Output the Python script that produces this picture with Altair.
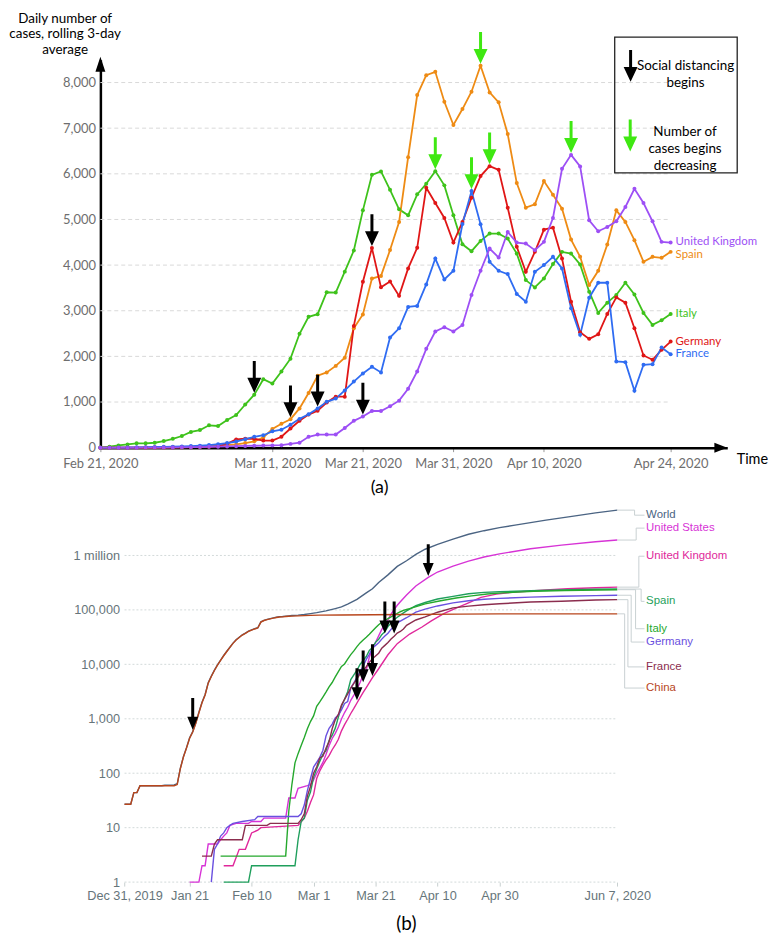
import altair as alt
import pandas as pd

# ===================== DATA : panel (a) daily cases, rolling 3-day average =====================
A_START = "2020-02-21"
A_DAYS = 64
a_countries = ["Italy", "Spain", "Germany", "France", "United Kingdom"]

italy_a = [5, 20, 48, 70, 95, 95, 108, 145,
           195, 255, 345, 385, 490, 475, 605, 715,
           945, 1160, 1500, 1405, 1670, 1950, 2495, 2867,
           2925, 3405, 3398, 3857, 4320, 5200, 5978, 6052,
           5650, 5222, 5091, 5550, 5782, 6059, 5747, 5091,
           4455, 4305, 4530, 4690, 4690, 4581, 4253, 3672,
           3511, 3707, 4022, 4290, 4253, 4013, 3417, 2952,
           3177, 3345, 3613, 3358, 2952, 2690, 2790, 2930]
spain_a = [0, 0, 0, 1, 1, 2, 3, 5,
           7, 10, 14, 20, 28, 40, 55, 70,
           100, 140, 222, 410, 523, 624, 860, 1197,
           1577, 1649, 1792, 1971, 2617, 2918, 3706, 3763,
           4330, 4945, 6365, 7725, 8162, 8235, 7580, 7070,
           7419, 7799, 8367, 7784, 7566, 6873, 5797, 5258,
           5332, 5841, 5541, 5236, 4560, 4181, 3563, 3876,
           4450, 5200, 4945, 4546, 4072, 4181, 4159, 4290]
germany_a = [0, 0, 0, 0, 1, 2, 3, 5,
             6, 8, 10, 14, 20, 33, 83, 180,
             195, 195, 155, 155, 240, 420, 588, 724,
             810, 989, 1118, 1118, 2667, 3634, 4373, 3513,
             3642, 3326, 3927, 4378, 5695, 5360, 5033, 4494,
             4945, 5476, 5950, 6168, 6088, 5258, 4400, 3854,
             4290, 4777, 4821, 4144, 3199, 2528, 2384, 2485,
             2930, 3293, 3177, 2616, 2020, 1926, 2144, 2325]
france_a = [1, 1, 2, 4, 8, 12, 15, 18,
            22, 28, 35, 45, 58, 75, 100, 135,
            185, 237, 272, 358, 394, 502, 631, 731,
            860, 1004, 1075, 1254, 1448, 1627, 1771, 1649,
            2413, 2616, 3083, 3105, 3577, 4144, 3686, 3876,
            4900, 5622, 4895, 4072, 3876, 3803, 3367, 3199,
            3854, 4000, 4181, 3927, 3054, 2472, 3286, 3613,
            3613, 1889, 1874, 1249, 1817, 1830, 2194, 2048]
uk_a = [0, 0, 0, 0, 0, 1, 2, 3,
        5, 7, 10, 14, 18, 22, 27, 33,
        38, 42, 46, 50, 55, 83, 110, 237,
        287, 287, 287, 430, 588, 681, 803, 803,
        907, 1030, 1292, 1670, 2166, 2544, 2637, 2544,
        2690, 3345, 3876, 4363, 4166, 4727, 4494, 4472,
        4328, 4509, 5033, 6109, 6415, 6162, 4982, 4742,
        4836, 4960, 5273, 5672, 5360, 4960, 4509, 4494]

a_tick_dates = ["2020-02-21", "2020-03-11", "2020-03-21", "2020-03-31", "2020-04-10", "2020-04-24"]
a_y_ticks = [0, 1000, 2000, 3000, 4000, 5000, 6000, 7000, 8000]
a_black_arrows = [("Italy", "2020-03-09"), ("Spain", "2020-03-13"), ("France", "2020-03-16"),
                  ("United Kingdom", "2020-03-21"), ("Germany", "2020-03-22")]
a_green_arrows = [("Italy", "2020-03-29"), ("France", "2020-04-02"), ("Spain", "2020-04-03"),
                  ("Germany", "2020-04-04"), ("United Kingdom", "2020-04-13")]
a_y_title = ["Daily number of", "cases, rolling 3-day", "average"]
a_legend_black = ["Social distancing", "begins"]
a_legend_green = ["Number of", "cases begins", "decreasing"]

# ===================== DATA : panel (b) total confirmed cases (log) =====================
b_order = ["World", "United States", "United Kingdom", "Spain", "Italy", "Germany", "France", "China"]

world_b = [("2019-12-31", 27), ("2020-01-02", 27), ("2020-01-03", 44), ("2020-01-04", 44), ("2020-01-05", 59),
           ("2020-01-12", 59), ("2020-01-13", 60), ("2020-01-16", 61), ("2020-01-17", 64), ("2020-01-18", 123),
           ("2020-01-19", 201), ("2020-01-20", 295), ("2020-01-21", 446), ("2020-01-22", 581), ("2020-01-23", 846),
           ("2020-01-24", 1320), ("2020-01-25", 2014), ("2020-01-26", 2798), ("2020-01-27", 4593), ("2020-01-28", 6065),
           ("2020-01-29", 7818), ("2020-01-30", 9826), ("2020-01-31", 11953), ("2020-02-01", 14557), ("2020-02-02", 17391),
           ("2020-02-03", 20630), ("2020-02-04", 24554), ("2020-02-05", 28276), ("2020-02-06", 31481), ("2020-02-07", 34886),
           ("2020-02-08", 37558), ("2020-02-09", 40554), ("2020-02-10", 43103), ("2020-02-11", 45171), ("2020-02-12", 46997),
           ("2020-02-13", 60368), ("2020-02-14", 64445), ("2020-02-15", 67099), ("2020-02-16", 69193), ("2020-02-17", 71329),
           ("2020-02-18", 73332), ("2020-02-19", 75184), ("2020-02-20", 75700), ("2020-02-21", 76767), ("2020-02-22", 77794),
           ("2020-02-23", 78811), ("2020-02-25", 80088), ("2020-02-27", 82294), ("2020-02-29", 85403), ("2020-03-02", 89000),
           ("2020-03-05", 95800), ("2020-03-08", 105800), ("2020-03-10", 113500), ("2020-03-12", 128000), ("2020-03-15", 156000),
           ("2020-03-18", 205000), ("2020-03-20", 245000), ("2020-03-22", 320000), ("2020-03-25", 440000), ("2020-03-28", 630000),
           ("2020-03-31", 800000), ("2020-04-03", 1050000), ("2020-04-06", 1300000), ("2020-04-10", 1600000), ("2020-04-15", 2000000),
           ("2020-04-20", 2450000), ("2020-04-25", 2850000), ("2020-04-30", 3250000), ("2020-05-05", 3600000), ("2020-05-10", 4000000),
           ("2020-05-15", 4450000), ("2020-05-20", 4900000), ("2020-05-25", 5400000), ("2020-05-31", 6050000), ("2020-06-07", 6800000)]
us_b = [("2020-01-21", 1), ("2020-01-24", 1), ("2020-01-25", 2), ("2020-01-26", 2), ("2020-01-27", 5), ("2020-01-30", 5),
        ("2020-01-31", 6), ("2020-02-01", 7), ("2020-02-02", 8), ("2020-02-03", 11), ("2020-02-05", 12), ("2020-02-09", 12),
        ("2020-02-10", 13), ("2020-02-13", 13), ("2020-02-14", 15), ("2020-02-21", 15), ("2020-02-22", 35), ("2020-02-24", 35),
        ("2020-02-25", 53), ("2020-02-28", 59), ("2020-02-29", 62), ("2020-03-01", 75), ("2020-03-02", 100), ("2020-03-03", 124),
        ("2020-03-04", 158), ("2020-03-05", 221), ("2020-03-06", 319), ("2020-03-07", 435), ("2020-03-08", 541), ("2020-03-09", 704),
        ("2020-03-10", 994), ("2020-03-11", 1301), ("2020-03-12", 1630), ("2020-03-13", 2183), ("2020-03-14", 2726), ("2020-03-15", 3499),
        ("2020-03-16", 4632), ("2020-03-17", 6421), ("2020-03-18", 7786), ("2020-03-19", 13680), ("2020-03-20", 19101), ("2020-03-21", 25493),
        ("2020-03-22", 33276), ("2020-03-23", 43847), ("2020-03-24", 53740), ("2020-03-25", 65778), ("2020-03-26", 83836), ("2020-03-27", 101657),
        ("2020-03-28", 121478), ("2020-03-29", 140886), ("2020-03-31", 188172), ("2020-04-03", 275586), ("2020-04-07", 396223), ("2020-04-10", 496535),
        ("2020-04-15", 636350), ("2020-04-20", 784326), ("2020-04-25", 938154), ("2020-04-30", 1069424), ("2020-05-10", 1329260), ("2020-05-20", 1551853),
        ("2020-05-31", 1790172), ("2020-06-07", 1920061)]
uk_b = [("2020-02-01", 2), ("2020-02-04", 2), ("2020-02-06", 4), ("2020-02-08", 4), ("2020-02-10", 8), ("2020-02-12", 9),
        ("2020-02-13", 10), ("2020-02-25", 11), ("2020-02-27", 15), ("2020-02-28", 20), ("2020-02-29", 29), ("2020-03-01", 40),
        ("2020-03-02", 80), ("2020-03-03", 110), ("2020-03-04", 140), ("2020-03-05", 175), ("2020-03-06", 210), ("2020-03-07", 270),
        ("2020-03-08", 330), ("2020-03-09", 420), ("2020-03-10", 600), ("2020-03-11", 780), ("2020-03-12", 980), ("2020-03-13", 1250),
        ("2020-03-14", 1550), ("2020-03-15", 1950), ("2020-03-16", 2450), ("2020-03-17", 3050), ("2020-03-18", 3750), ("2020-03-19", 4600),
        ("2020-03-20", 5700), ("2020-03-22", 8300), ("2020-03-25", 15000), ("2020-03-28", 24000), ("2020-04-01", 36000), ("2020-04-05", 48500),
        ("2020-04-08", 63000), ("2020-04-12", 85000), ("2020-04-16", 108000), ("2020-04-20", 135000), ("2020-04-24", 170000), ("2020-04-29", 195000),
        ("2020-05-04", 210000), ("2020-05-10", 222000), ("2020-05-15", 232000), ("2020-05-22", 245000), ("2020-05-31", 255000), ("2020-06-07", 262000)]
spain_b = [("2020-02-01", 1), ("2020-02-09", 1), ("2020-02-10", 2), ("2020-02-24", 2), ("2020-02-25", 6), ("2020-02-26", 13),
           ("2020-02-27", 15), ("2020-02-28", 32), ("2020-02-29", 45), ("2020-03-01", 84), ("2020-03-02", 120), ("2020-03-03", 165),
           ("2020-03-04", 222), ("2020-03-05", 259), ("2020-03-06", 400), ("2020-03-07", 500), ("2020-03-08", 673), ("2020-03-09", 1073),
           ("2020-03-10", 1695), ("2020-03-11", 2277), ("2020-03-12", 3146), ("2020-03-13", 5232), ("2020-03-14", 6391), ("2020-03-15", 7798),
           ("2020-03-16", 9942), ("2020-03-17", 11748), ("2020-03-18", 13910), ("2020-03-19", 17963), ("2020-03-20", 20410), ("2020-03-21", 25374),
           ("2020-03-22", 28768), ("2020-03-23", 35136), ("2020-03-24", 39885), ("2020-03-25", 49515), ("2020-03-26", 57786), ("2020-03-27", 65719),
           ("2020-03-28", 73235), ("2020-03-29", 80110), ("2020-03-30", 87956), ("2020-03-31", 95923), ("2020-04-03", 119199), ("2020-04-06", 136675),
           ("2020-04-10", 158273), ("2020-04-15", 177633), ("2020-04-20", 198000), ("2020-04-25", 210000), ("2020-04-30", 216000), ("2020-05-10", 224350),
           ("2020-05-20", 232555), ("2020-05-31", 239638), ("2020-06-07", 241550)]
italy_b = [("2020-01-31", 3), ("2020-02-21", 3), ("2020-02-22", 20), ("2020-02-23", 62), ("2020-02-24", 155), ("2020-02-25", 229),
           ("2020-02-26", 322), ("2020-02-27", 453), ("2020-02-28", 655), ("2020-02-29", 888), ("2020-03-01", 1128), ("2020-03-02", 1694),
           ("2020-03-03", 2036), ("2020-03-04", 2502), ("2020-03-05", 3089), ("2020-03-06", 3858), ("2020-03-07", 4636), ("2020-03-08", 5883),
           ("2020-03-09", 7375), ("2020-03-10", 9172), ("2020-03-11", 10149), ("2020-03-12", 12462), ("2020-03-13", 15113), ("2020-03-14", 17660),
           ("2020-03-15", 21157), ("2020-03-16", 24747), ("2020-03-17", 27980), ("2020-03-18", 31506), ("2020-03-19", 35713), ("2020-03-20", 41035),
           ("2020-03-21", 47021), ("2020-03-22", 53578), ("2020-03-23", 59138), ("2020-03-24", 63927), ("2020-03-25", 69176), ("2020-03-26", 74386),
           ("2020-03-27", 80589), ("2020-03-28", 86498), ("2020-03-29", 92472), ("2020-03-30", 97689), ("2020-03-31", 101739), ("2020-04-01", 105792),
           ("2020-04-06", 128948), ("2020-04-11", 147577), ("2020-04-16", 165155), ("2020-04-21", 181228), ("2020-04-26", 195351), ("2020-05-01", 205463),
           ("2020-05-11", 219070), ("2020-05-21", 227364), ("2020-06-01", 232664), ("2020-06-07", 234998)]
germany_b = [("2020-01-28", 1), ("2020-01-29", 4), ("2020-01-30", 5), ("2020-01-31", 7), ("2020-02-01", 8), ("2020-02-02", 10),
             ("2020-02-03", 11), ("2020-02-04", 12), ("2020-02-07", 13), ("2020-02-11", 14), ("2020-02-12", 16), ("2020-02-25", 16),
             ("2020-02-26", 18), ("2020-02-27", 26), ("2020-02-28", 48), ("2020-02-29", 79), ("2020-03-01", 130), ("2020-03-02", 159),
             ("2020-03-03", 196), ("2020-03-04", 262), ("2020-03-05", 482), ("2020-03-06", 670), ("2020-03-07", 799), ("2020-03-08", 1040),
             ("2020-03-09", 1176), ("2020-03-10", 1457), ("2020-03-11", 1908), ("2020-03-12", 2078), ("2020-03-13", 3675), ("2020-03-14", 4585),
             ("2020-03-15", 5795), ("2020-03-16", 7272), ("2020-03-17", 9257), ("2020-03-18", 12327), ("2020-03-19", 15320), ("2020-03-20", 19848),
             ("2020-03-21", 22213), ("2020-03-22", 24873), ("2020-03-23", 29056), ("2020-03-24", 32986), ("2020-03-25", 37323), ("2020-03-26", 43938),
             ("2020-03-27", 50871), ("2020-03-28", 57695), ("2020-03-29", 62095), ("2020-03-30", 66885), ("2020-03-31", 71808), ("2020-04-03", 91159),
             ("2020-04-06", 103374), ("2020-04-10", 118181), ("2020-04-15", 134753), ("2020-04-20", 147065), ("2020-04-25", 156513), ("2020-04-30", 163009),
             ("2020-05-10", 171324), ("2020-05-20", 178473), ("2020-05-31", 183294), ("2020-06-07", 185750)]
france_b = [("2020-01-25", 3), ("2020-01-28", 3), ("2020-01-29", 5), ("2020-01-30", 6), ("2020-02-07", 6), ("2020-02-08", 11),
            ("2020-02-15", 11), ("2020-02-16", 12), ("2020-02-25", 12), ("2020-02-26", 14), ("2020-02-27", 18), ("2020-02-28", 38),
            ("2020-02-29", 57), ("2020-03-01", 100), ("2020-03-02", 130), ("2020-03-03", 191), ("2020-03-04", 204), ("2020-03-05", 288),
            ("2020-03-06", 380), ("2020-03-07", 656), ("2020-03-08", 957), ("2020-03-09", 1200), ("2020-03-10", 1784), ("2020-03-11", 2281),
            ("2020-03-12", 2876), ("2020-03-13", 3667), ("2020-03-14", 4480), ("2020-03-15", 5400), ("2020-03-16", 6650), ("2020-03-17", 7652),
            ("2020-03-18", 9043), ("2020-03-19", 10871), ("2020-03-20", 12612), ("2020-03-21", 14282), ("2020-03-22", 16018), ("2020-03-23", 19856),
            ("2020-03-24", 22304), ("2020-03-25", 25233), ("2020-03-26", 29155), ("2020-03-27", 32964), ("2020-03-28", 37575), ("2020-03-29", 40174),
            ("2020-03-30", 44550), ("2020-03-31", 52128), ("2020-04-03", 65202), ("2020-04-06", 74390), ("2020-04-10", 90676), ("2020-04-15", 108847),
            ("2020-04-20", 117324), ("2020-04-25", 124575), ("2020-04-30", 129581), ("2020-05-10", 139519), ("2020-05-20", 143845), ("2020-05-31", 151753),
            ("2020-06-07", 154188)]
china_b = [("2019-12-31", 27), ("2020-01-02", 27), ("2020-01-03", 44), ("2020-01-04", 44), ("2020-01-05", 59), ("2020-01-16", 59),
           ("2020-01-17", 62), ("2020-01-18", 121), ("2020-01-19", 198), ("2020-01-20", 291), ("2020-01-21", 440), ("2020-01-22", 571),
           ("2020-01-23", 830), ("2020-01-24", 1287), ("2020-01-25", 1975), ("2020-01-26", 2744), ("2020-01-27", 4515), ("2020-01-28", 5974),
           ("2020-01-29", 7711), ("2020-01-30", 9692), ("2020-01-31", 11791), ("2020-02-01", 14380), ("2020-02-02", 17205), ("2020-02-03", 20438),
           ("2020-02-04", 24324), ("2020-02-05", 28018), ("2020-02-06", 31161), ("2020-02-07", 34546), ("2020-02-08", 37198), ("2020-02-09", 40171),
           ("2020-02-10", 42638), ("2020-02-11", 44653), ("2020-02-12", 46472), ("2020-02-13", 59804), ("2020-02-14", 63851), ("2020-02-15", 66492),
           ("2020-02-16", 68500), ("2020-02-17", 70548), ("2020-02-18", 72436), ("2020-02-19", 74185), ("2020-02-20", 74576), ("2020-02-21", 75465),
           ("2020-02-22", 76288), ("2020-02-23", 76936), ("2020-02-25", 77658), ("2020-02-27", 78497), ("2020-02-29", 79251), ("2020-03-03", 80151),
           ("2020-03-10", 80778), ("2020-03-20", 81300), ("2020-03-31", 82545), ("2020-04-17", 83760), ("2020-04-30", 84385), ("2020-05-31", 84570),
           ("2020-06-07", 84630)]

b_tick_dates = ["2019-12-31", "2020-01-21", "2020-02-10", "2020-03-01", "2020-03-21", "2020-04-10", "2020-04-30", "2020-06-07"]
b_y_ticks = [1, 10, 100, 1000, 10000, 100000, 1000000]
b_arrows = [("2020-01-22", 630), ("2020-03-15", 2200), ("2020-03-17", 4700), ("2020-03-20", 6100),
            ("2020-03-24", 37000), ("2020-03-27", 37000), ("2020-04-07", 420000)]

# ===================== STYLE =====================
FA = "Lato"
FB = "Liberation Sans"
A_COLORS = ["#3ec21b", "#ee8b14", "#e01616", "#2f6cf2", "#9d4ff5"]
A_LABEL_DY = {"Italy": 0, "Spain": 3, "Germany": 0, "France": 0, "United Kingdom": -1}
B_COLORS = {"World": "#4b6483", "United States": "#d733d6", "United Kingdom": "#e0289b", "Spain": "#1f9f5c",
            "Italy": "#25a82d", "Germany": "#6a50e0", "France": "#8b2d4e", "China": "#b8461c"}
# country -> (elbow px from line end, label dy px)
B_LABEL_LAYOUT = {"World": (17.4, 5.1), "United States": (19.0, -12.0), "United Kingdom": (21.7, -31.1),
                  "Spain": (24.0, 12.4), "Italy": (18.4, 39.3), "Germany": (14.0, 47.1),
                  "France": (10.7, 67.7), "China": (7.4, 74.7)}
GREEN_ARROW = "#3fe812"
LEADER = "#c9d1d3"
B_TEXT = "#66757a"
ARROW_A = "M-0.15,-3.2L0.15,-3.2L0.15,-1.5L0.7,-1.5L0,0L-0.7,-1.5L-0.15,-1.5Z"
ARROW_B = "M-0.15,-3.2L0.15,-3.2L0.15,-1.3L0.55,-1.3L0,0L-0.55,-1.3L-0.15,-1.3Z"
HEAD_UP = "M0,0L0.5,1.5L-0.5,1.5Z"
HEAD_RIGHT = "M0,0L-1.3,-0.5L-1.3,0.5Z"

DAY = 86_400_000


def ms(d):
    return int(pd.Timestamp(d, tz="UTC").value // 1_000_000)


one = pd.DataFrame({"k": [0]})

# ===================== PANEL (a) =====================
A_W, A_H = 631, 390.5
A_PX_DAY = 574 / 63
a_dates = pd.date_range(A_START, periods=A_DAYS, freq="D").strftime("%Y-%m-%d").tolist()
a_series = dict(zip(a_countries, [italy_a, spain_a, germany_a, france_a, uk_a]))
a_long = pd.DataFrame([{"country": c, "date": d, "value": v}
                       for c in a_countries for d, v in zip(a_dates, a_series[c])])

a_xs = alt.Scale(type="utc", domain=[ms(A_START), ms(A_START) + A_W / A_PX_DAY * DAY])
a_ys = alt.Scale(domain=[0, 8500], nice=False, zero=True)
a_col = alt.Color("country:N", scale=alt.Scale(domain=a_countries, range=A_COLORS), legend=None)

a_x_axis = alt.Axis(values=[ms(d) for d in a_tick_dates], labelExpr="utcFormat(datum.value, '%b %-d, %Y')",
                    grid=False, domainColor="black", domainWidth=2.5, ticks=True, tickColor="#999999", tickSize=4,
                    labelFont=FA, labelFontSize=13, labelColor="#6e6e6e", labelPadding=6, labelFlush=False,
                    labelOverlap=False, title="Time", titleX=A_W + 9, titleY=12, titleAlign="left",
                    titleBaseline="middle", titleFont=FA, titleFontSize=14.5, titleFontWeight="normal",
                    titleColor="black")
a_y_axis = alt.Axis(values=a_y_ticks, format=",.0f", grid=False, ticks=False, tickSize=0, domainColor="black",
                    domainWidth=2.5, labelFont=FA, labelFontSize=13, labelColor="#6e6e6e", labelPadding=5,
                    title=a_y_title, titleAngle=0, titleX=-36, titleY=-37.5, titleAlign="center",
                    titleBaseline="alphabetic", titleLineHeight=15.5, titleFont=FA, titleFontSize=13.5,
                    titleFontWeight="normal", titleColor="black")


def AX(field):
    return alt.X(field, scale=a_xs, axis=a_x_axis)


def AY(field):
    return alt.Y(field, scale=a_ys, axis=a_y_axis)


a_grid = pd.DataFrame({"v": a_y_ticks[1:], "x0": ms(a_dates[0]), "x1": ms(a_dates[-1])})
grid_a = alt.Chart(a_grid).mark_rule(color="#d9d9d9", strokeWidth=1, strokeDash=[4, 3]).encode(
    x=AX("x0:T"), x2="x1", y=AY("v:Q"))

lines_a = alt.Chart(a_long).mark_line(strokeWidth=1.8, point=alt.OverlayMarkDef(filled=True, size=16)).encode(
    x=AX("date:T"), y=AY("value:Q"), color=a_col)

a_label_layers = []
for i, c in enumerate(a_countries):
    last = pd.DataFrame([{"country": c, "date": a_dates[-1], "value": a_series[c][-1]}])
    a_label_layers.append(alt.Chart(last).mark_text(
        align="left", baseline="middle", dx=5, dy=A_LABEL_DY[c], font=FA, fontSize=11.5, color=A_COLORS[i]).encode(
        x=AX("date:T"), y=AY("value:Q"), text="country:N"))


def arrow_df(pairs):
    return pd.DataFrame([{"date": d, "value": a_series[c][a_dates.index(d)]} for c, d in pairs])


def a_arrows(pairs, color):
    return alt.Chart(arrow_df(pairs)).mark_point(shape=ARROW_A, size=400, filled=True, color=color, opacity=1,
                                                 strokeWidth=0, yOffset=-2).encode(
        x=AX("date:T"), y=AY("value:Q"))


def px_point(shape, x, y, color, size=400):
    return alt.Chart(one).mark_point(shape=shape, size=size, filled=True, color=color, opacity=1,
                                     strokeWidth=0).encode(x=alt.value(x), y=alt.value(y))


def px_text(txt, x, y, font, size, color="black", lh=None, align="center"):
    kw = dict(text=txt, font=font, fontSize=size, color=color, align=align, baseline="middle")
    if lh is not None:
        kw["lineHeight"] = lh
    return alt.Chart(one).mark_text(**kw).encode(x=alt.value(x), y=alt.value(y))


legend_box = alt.Chart(one).mark_rect(fillOpacity=0, stroke="#222222", strokeWidth=1.3).encode(
    x=alt.value(517.7), x2=alt.value(641), y=alt.value(-22.7), y2=alt.value(114))

# invisible left anchor so the plot area starts 91 px right of the page margin
left_anchor = alt.Chart(one).mark_rule(color="white", opacity=0, strokeWidth=1).encode(
    x=alt.value(-90.5), y=alt.value(100), y2=alt.value(101))

panel_a = alt.layer(
    grid_a, lines_a, *a_label_layers,
    a_arrows(a_black_arrows, "black"), a_arrows(a_green_arrows, GREEN_ARROW),
    legend_box,
    px_point(ARROW_A, 533.7, 22.3, "black"), px_point(ARROW_A, 533.3, 92.3, GREEN_ARROW),
    px_text(a_legend_black, 589, 6.7, FA, 13.5, lh=16.7),
    px_text(a_legend_green, 588.5, 72.7, FA, 13.5, lh=17),
    px_point(HEAD_UP, 0, -3, "black"), px_point(HEAD_RIGHT, A_W, A_H, "black"),
    px_text("(a)", 281, 431, FA, 18),
    left_anchor,
).properties(width=A_W, height=A_H)

# ===================== PANEL (b) =====================
B_W, B_H = 520.3, 383.6
B_PX_DAY = 496 / 159
B_EXT = 24.3 / B_PX_DAY
b_series = dict(zip(b_order, [world_b, us_b, uk_b, spain_b, italy_b, germany_b, france_b, china_b]))

b_xs = alt.Scale(type="utc", domain=[ms("2019-12-31") - B_EXT * DAY, ms("2020-06-07")])
b_ys = alt.Scale(type="log", domain=[1, 1e7], nice=False)

b_x_axis = alt.Axis(values=[ms(d) for d in b_tick_dates],
                    labelExpr="utcFormat(datum.value, '%b %-d') + ((utcyear(datum.value) < 2020 || utcmonth(datum.value) > 4) ? utcFormat(datum.value, ', %Y') : '')",
                    grid=False, domain=False, ticks=True, tickColor="#c8d0d0", tickSize=4, labelFont=FB,
                    labelFontSize=12.8, labelColor=B_TEXT, labelPadding=4, labelFlush=False, labelOverlap=False,
                    title="")
b_y_axis = alt.Axis(values=b_y_ticks, labelExpr="datum.value >= 1000000 ? '1 million' : format(datum.value, ',')",
                    grid=False, domain=False, ticks=False, tickSize=0, labelFont=FB, labelFontSize=12.8,
                    labelColor=B_TEXT, labelPadding=5, offset=-24.3, title="")


def BX(field):
    return alt.X(field, scale=b_xs, axis=b_x_axis)


def BY(field):
    return alt.Y(field, scale=b_ys, axis=b_y_axis)


b_grid = pd.DataFrame({"v": b_y_ticks, "x0": ms(b_tick_dates[0]), "x1": ms(b_tick_dates[-1])})
grid_b = alt.Chart(b_grid).mark_rule(color="#d3dada", strokeWidth=1, strokeDash=[2, 2]).encode(
    x=BX("x0:T"), x2="x1", y=BY("v:Q"))

b_layers = [grid_b]
for c in b_order:
    df = pd.DataFrame(b_series[c], columns=["date", "value"])
    b_layers.append(alt.Chart(df).mark_line(strokeWidth=1.4, color=B_COLORS[c]).encode(
        x=BX("date:T"), y=BY("value:Q")))

for c in b_order:
    elbow, dy = B_LABEL_LAYOUT[c]
    end = pd.DataFrame([b_series[c][-1]], columns=["date", "value"])
    b_layers.append(alt.Chart(end).mark_rule(color=LEADER, strokeWidth=1, x2Offset=elbow).encode(
        x=BX("date:T"), x2="date", y=BY("value:Q")))
    b_layers.append(alt.Chart(end).mark_rule(color=LEADER, strokeWidth=1, xOffset=elbow, y2Offset=dy).encode(
        x=BX("date:T"), y=BY("value:Q"), y2="value"))
    b_layers.append(alt.Chart(end).mark_rule(color=LEADER, strokeWidth=1, xOffset=elbow, x2Offset=27.4,
                                             yOffset=dy).encode(x=BX("date:T"), x2="date", y=BY("value:Q")))
    b_layers.append(alt.Chart(end).mark_text(text=c, align="left", baseline="middle", dx=29, dy=dy, font=FB,
                                             fontSize=11.5, color=B_COLORS[c]).encode(
        x=BX("date:T"), y=BY("value:Q")))

b_arrow_df = pd.DataFrame(b_arrows, columns=["date", "value"])
b_layers.append(alt.Chart(b_arrow_df).mark_point(shape=ARROW_B, size=400, filled=True, color="black", opacity=1,
                                                 strokeWidth=0).encode(x=BX("date:T"), y=BY("value:Q")))
b_layers.append(px_text("(b)", 308, 426.3, FA, 19))

panel_b = alt.layer(*b_layers).properties(width=B_W, height=B_H)

chart = alt.vconcat(panel_a, panel_b, spacing=53.2, bounds="flush").properties(
    padding={"left": 0, "top": 0, "right": 0, "bottom": 0}, background="white"
).configure_view(strokeWidth=0)

chart.save("out.html", embed_options={"renderer": "svg", "actions": False})
